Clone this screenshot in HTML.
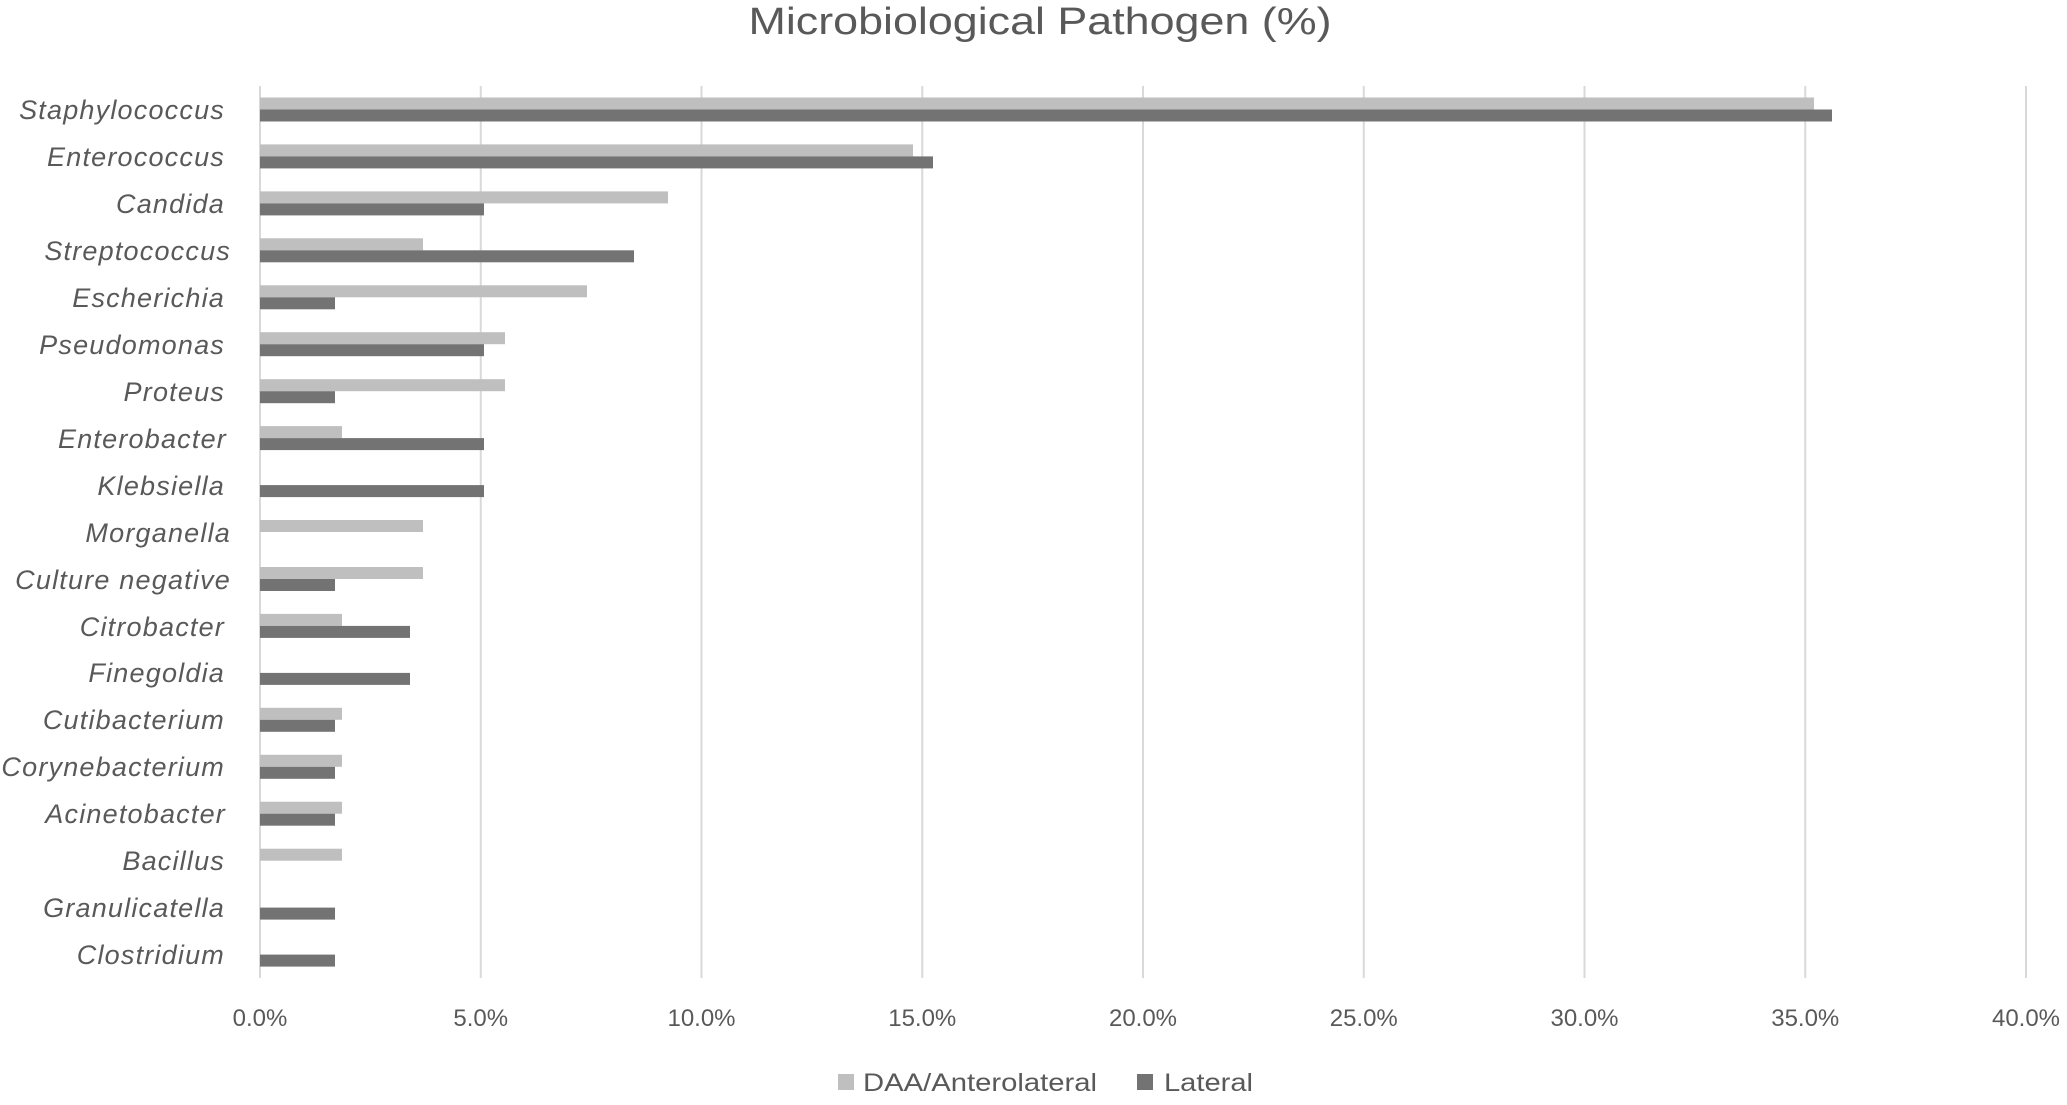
<!DOCTYPE html>
<html><head><meta charset="utf-8"><style>
html,body{margin:0;padding:0;background:#fff;}
svg{display:block;}
text{font-family:"Liberation Sans",sans-serif;fill:#595959;}
.c{font-style:italic;font-size:27px;text-anchor:end;letter-spacing:1.2px;}
.t{font-size:24px;text-anchor:middle;}
</style></head><body>
<svg width="2067" height="1105" viewBox="0 0 2067 1105" xmlns="http://www.w3.org/2000/svg">
<text x="1040" y="34" font-size="38" text-anchor="middle" textLength="583" lengthAdjust="spacingAndGlyphs">Microbiological Pathogen (%)</text>
<g stroke="#d9d9d9" stroke-width="2">
<line x1="260" y1="86" x2="260" y2="978"/>
<line x1="480.75" y1="86" x2="480.75" y2="978"/>
<line x1="701.5" y1="86" x2="701.5" y2="978"/>
<line x1="922.25" y1="86" x2="922.25" y2="978"/>
<line x1="1143" y1="86" x2="1143" y2="978"/>
<line x1="1363.75" y1="86" x2="1363.75" y2="978"/>
<line x1="1584.5" y1="86" x2="1584.5" y2="978"/>
<line x1="1805.25" y1="86" x2="1805.25" y2="978"/>
<line x1="2026" y1="86" x2="2026" y2="978"/>
</g>
<g fill="#bfbfbf">
<rect x="260" y="97.5" width="1554" height="12"/>
<rect x="260" y="144.4" width="653" height="12"/>
<rect x="260" y="191.4" width="408" height="12"/>
<rect x="260" y="238.3" width="163" height="12"/>
<rect x="260" y="285.3" width="327" height="12"/>
<rect x="260" y="332.2" width="245" height="12"/>
<rect x="260" y="379.2" width="245" height="12"/>
<rect x="260" y="426.1" width="82" height="12"/>
<rect x="260" y="520" width="163" height="12"/>
<rect x="260" y="567" width="163" height="12"/>
<rect x="260" y="613.9" width="82" height="12"/>
<rect x="260" y="707.8" width="82" height="12"/>
<rect x="260" y="754.8" width="82" height="12"/>
<rect x="260" y="801.7" width="82" height="12"/>
<rect x="260" y="848.7" width="82" height="12"/>
</g>
<g fill="#737373">
<rect x="260" y="109.5" width="1572" height="12"/>
<rect x="260" y="156.4" width="673" height="12"/>
<rect x="260" y="203.4" width="224" height="12"/>
<rect x="260" y="250.3" width="374" height="12"/>
<rect x="260" y="297.3" width="75" height="12"/>
<rect x="260" y="344.2" width="224" height="12"/>
<rect x="260" y="391.2" width="75" height="12"/>
<rect x="260" y="438.1" width="224" height="12"/>
<rect x="260" y="485.1" width="224" height="12"/>
<rect x="260" y="579" width="75" height="12"/>
<rect x="260" y="625.9" width="150" height="12"/>
<rect x="260" y="672.9" width="150" height="12"/>
<rect x="260" y="719.8" width="75" height="12"/>
<rect x="260" y="766.8" width="75" height="12"/>
<rect x="260" y="813.7" width="75" height="12"/>
<rect x="260" y="907.6" width="75" height="12"/>
<rect x="260" y="954.6" width="75" height="12"/>
</g>
<g>
<text class="c" x="225" y="119">Staphylococcus</text>
<text class="c" x="225" y="166">Enterococcus</text>
<text class="c" x="225" y="213">Candida</text>
<text class="c" x="231" y="260">Streptococcus</text>
<text class="c" x="225" y="307">Escherichia</text>
<text class="c" x="225" y="354">Pseudomonas</text>
<text class="c" x="225" y="401">Proteus</text>
<text class="c" x="227" y="448">Enterobacter</text>
<text class="c" x="225" y="495">Klebsiella</text>
<text class="c" x="231" y="542">Morganella</text>
<text class="c" x="231" y="589">Culture negative</text>
<text class="c" x="225" y="636">Citrobacter</text>
<text class="c" x="225" y="682">Finegoldia</text>
<text class="c" x="225" y="729">Cutibacterium</text>
<text class="c" x="225" y="776">Corynebacterium</text>
<text class="c" x="226" y="823">Acinetobacter</text>
<text class="c" x="225" y="870">Bacillus</text>
<text class="c" x="225" y="917">Granulicatella</text>
<text class="c" x="225" y="964">Clostridium</text>
</g>
<text class="t" x="260" y="1026">0.0%</text>
<text class="t" x="480.75" y="1026">5.0%</text>
<text class="t" x="701.5" y="1026">10.0%</text>
<text class="t" x="922.25" y="1026">15.0%</text>
<text class="t" x="1143" y="1026">20.0%</text>
<text class="t" x="1363.75" y="1026">25.0%</text>
<text class="t" x="1584.5" y="1026">30.0%</text>
<text class="t" x="1805.25" y="1026">35.0%</text>
<text class="t" x="2026" y="1026">40.0%</text>
<rect x="838" y="1074" width="16" height="16" fill="#bfbfbf"/>
<text x="863" y="1091" font-size="25" textLength="234" lengthAdjust="spacingAndGlyphs">DAA/Anterolateral</text>
<rect x="1137" y="1074" width="16" height="16" fill="#737373"/>
<text x="1164" y="1091" font-size="25" textLength="89" lengthAdjust="spacingAndGlyphs">Lateral</text>
</svg>
</body></html>
